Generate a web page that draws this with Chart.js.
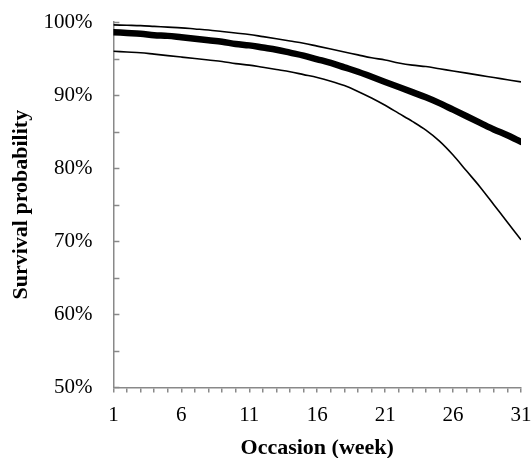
<!DOCTYPE html>
<html>
<head>
<meta charset="utf-8">
<script src="https://cdn.jsdelivr.net/npm/chart.js@4"></script>
<style>
html,body{margin:0;padding:0;background:#fff;}
#wrap{width:531px;height:458px;}
</style>
</head>
<body>
<div id="wrap"><canvas id="c" width="531" height="458"></canvas></div>
<script>
const weeks = [1,2,3,4,5,6,7,8,9,10,11,12,13,14,15,16,17,18,19,20,21,22,23,24,25,26,27,28,29,30,31];
const meanSurvival = [98.6,98.5,98.4,98.2,98.1,97.9,97.7,97.5,97.3,97.0,96.8,96.5,96.2,95.8,95.4,94.9,94.4,93.8,93.2,92.5,91.8,91.1,90.4,89.7,88.9,88.0,87.1,86.2,85.3,84.5,83.6];
const upperCI = [99.6,99.55,99.5,99.4,99.3,99.2,99.05,98.9,98.7,98.5,98.3,98.0,97.7,97.4,97.1,96.7,96.3,95.9,95.5,95.1,94.8,94.4,94.1,93.9,93.6,93.3,93.0,92.7,92.4,92.1,91.8];
const lowerCI = [96.0,95.9,95.8,95.6,95.4,95.2,95.0,94.8,94.6,94.3,94.1,93.8,93.5,93.2,92.8,92.4,91.9,91.3,90.5,89.6,88.6,87.5,86.4,85.2,83.7,81.8,79.6,77.4,75.0,72.6,70.2];
const xTickLabels = [1,6,11,16,21,26,31];
const yTickLabels = [50,60,70,80,90,100];

const pts = arr => weeks.map((w,i)=>({x:w,y:arr[i]}));
const axisColor = '#898989';
const serif = "'Liberation Serif','DejaVu Serif',serif";

const yInsideTicks = {
  id:'yInsideTicks',
  afterDraw(chart){
    const s = chart.scales.y, ctx = chart.ctx;
    const x0 = chart.chartArea.left;
    ctx.save();
    ctx.strokeStyle = axisColor; ctx.lineWidth = 1.5;
    s.ticks.forEach(t=>{
      const y = Math.round(s.getPixelForValue(t.value))+0.5;
      ctx.beginPath(); ctx.moveTo(x0, y); ctx.lineTo(x0+6, y); ctx.stroke();
    });
    ctx.restore();
  }
};

new Chart(document.getElementById('c'), {
  type:'line',
  data:{datasets:[
    {data:pts(meanSurvival), borderColor:'#000', borderWidth:6.5, pointRadius:0, cubicInterpolationMode:'monotone', borderCapStyle:'round', fill:false},
    {data:pts(upperCI), borderColor:'#000', borderWidth:1.6, pointRadius:0, cubicInterpolationMode:'monotone', fill:false},
    {data:pts(lowerCI), borderColor:'#000', borderWidth:1.6, pointRadius:0, cubicInterpolationMode:'monotone', fill:false}
  ]},
  options:{
    responsive:false, animation:false,
    layout:{padding:{left:8,right:0,top:0,bottom:0}},
    plugins:{legend:{display:false}, tooltip:{enabled:false}},
    scales:{
      x:{type:'linear', min:1, max:31,
        afterFit:s=>{ s.paddingRight = 10; },
        border:{color:axisColor, width:1.5},
        grid:{drawOnChartArea:false, color:axisColor, lineWidth:1.5, tickLength:5},
        ticks:{stepSize:1, autoSkip:false, maxRotation:0, color:'#000', padding:10,
          font:{family:serif, size:21},
          callback:v=> xTickLabels.includes(v) ? String(v) : ''},
        title:{display:true, text:'Occasion (week)', color:'#000', padding:{top:-2,bottom:-4},
          font:{family:serif, size:22, weight:'bold'}}
      },
      y:{min:50, max:100,
        afterFit:s=>{ s.paddingTop = 22; },
        border:{color:axisColor, width:1.5},
        grid:{drawOnChartArea:false, drawTicks:false},
        ticks:{stepSize:5, autoSkip:false, color:'#000', padding:21,
          font:{family:serif, size:21},
          callback:v=> yTickLabels.includes(v) ? v+'%' : ''},
        title:{display:true, text:'Survival probability', color:'#000', padding:{top:0,bottom:-12},
          font:{family:serif, size:22, weight:'bold'}}
      }
    }
  },
  plugins:[yInsideTicks]
});
</script>
</body>
</html>
